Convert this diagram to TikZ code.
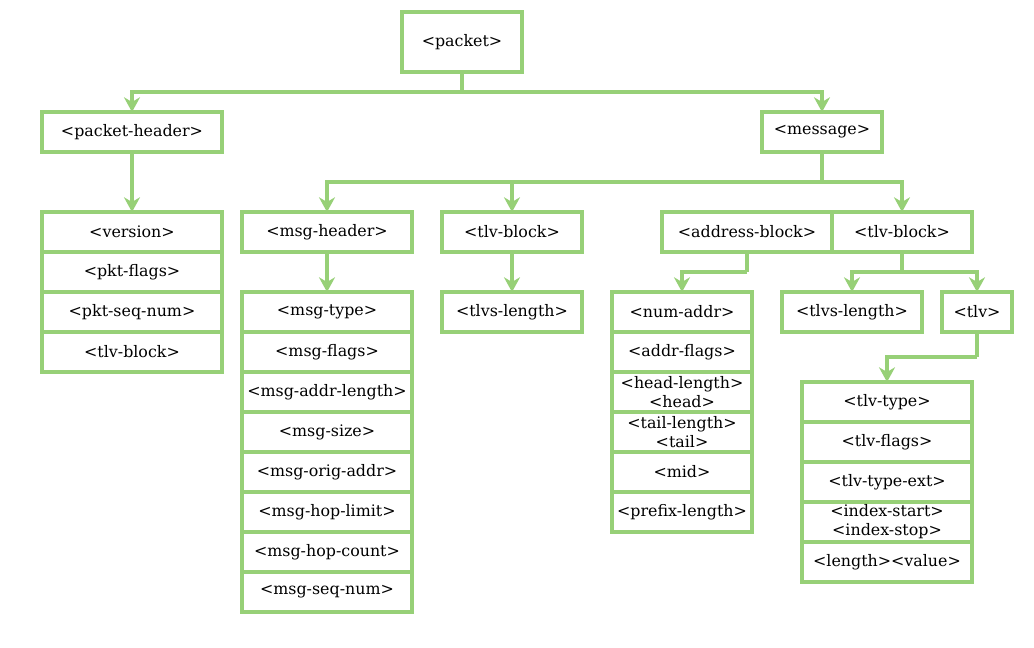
\documentclass[tikz,border=0pt]{standalone}
\usepackage{fontspec}
\setmainfont{DejaVu Serif}
\usetikzlibrary{arrows.meta}
\definecolor{grn}{HTML}{97D077}
\begin{document}
\begin{tikzpicture}[x=0.75pt,y=-0.75pt,
  box/.style={draw=grn,line width=2.4pt,fill=white,minimum height=30pt,inner sep=0pt,outer sep=0pt,
    font=\fontsize{11.9}{14.2}\selectfont,align=center},
  conn/.style={draw=grn,line width=2.4pt,-{Stealth[length=11pt,width=12pt,inset=3.5pt]}},
  plain/.style={draw=grn,line width=2.4pt}
]
\useasboundingbox (0,0) rectangle (1034,648);

% top
\node[box,minimum width=90pt,minimum height=45pt] (packet) at (462,42) {<packet>};
\node[box,minimum width=135pt] (pkh) at (132,132) {<packet-header>};
\node[box,minimum width=90pt] (msg) at (822,132) {<message>};

% packet-header stack
\foreach \t [count=\i] in {<version>,<pkt-flags>,<pkt-seq-num>,<tlv-block>}
  \node[box,minimum width=135pt] (ph\i) at (132,192+40*\i) {\t};

% msg-header
\node[box,minimum width=127.5pt] (mh) at (327,232) {<msg-header>};
\foreach \t [count=\i] in {<msg-type>,<msg-flags>,<msg-addr-length>,<msg-size>,<msg-orig-addr>,<msg-hop-limit>,<msg-hop-count>,<msg-seq-num>}
  \node[box,minimum width=127.5pt] (mt\i) at (327,272+40*\i) {\t};

% tlv-block 1
\node[box,minimum width=105pt] (tb1) at (512,232) {<tlv-block>};
\node[box,minimum width=105pt] (tl1) at (512,312) {<tlvs-length>};

% address-block
\node[box,minimum width=127.5pt] (ab) at (747,232) {<address-block>};
\node[box,minimum width=105pt] (tb2) at (902,232) {<tlv-block>};

\node[box,minimum width=105pt] (na1) at (682,312) {<num-addr>};
\node[box,minimum width=105pt] (na2) at (682,352) {<addr-flags>};
\node[box,minimum width=105pt] (na3) at (682,392) {<head-length>\\<head>};
\node[box,minimum width=105pt] (na4) at (682,432) {<tail-length>\\<tail>};
\node[box,minimum width=105pt] (na5) at (682,472) {<mid>};
\node[box,minimum width=105pt] (na6) at (682,512) {<prefix-length>};

% tlv-block 2 children
\node[box,minimum width=105pt] (tl2) at (852,312) {<tlvs-length>};
\node[box,minimum width=52.5pt] (tlv) at (977,312) {<tlv>};

\node[box,minimum width=127.5pt] (tt1) at (887,402) {<tlv-type>};
\node[box,minimum width=127.5pt] (tt2) at (887,442) {<tlv-flags>};
\node[box,minimum width=127.5pt] (tt3) at (887,482) {<tlv-type-ext>};
\node[box,minimum width=127.5pt] (tt4) at (887,522) {<index-start>\\<index-stop>};
\node[box,minimum width=127.5pt] (tt5) at (887,562) {<length><value>};

% connectors
\coordinate (j1) at (462,92);
\draw[plain] (packet.south) -- (j1);
\draw[conn] (j1) -| (pkh.north);
\draw[conn] (j1) -| (msg.north);

\draw[conn] (pkh.south) -- (ph1.north);

\coordinate (j2) at (822,182);
\draw[plain] (msg.south) -- (j2);
\draw[conn] (j2) -| (mh.north);
\draw[conn] (j2) -| (tb1.north);
\draw[conn] (j2) -| (tb2.north);

\draw[conn] (mh.south) -- (mt1.north);
\draw[conn] (tb1.south) -- (tl1.north);

\coordinate (j3) at (747,272);
\draw[plain] (ab.south) -- (j3);
\draw[conn] (j3) -| (na1.north);

\coordinate (j4) at (902,272);
\draw[plain] (tb2.south) -- (j4);
\draw[conn] (j4) -| (tl2.north);
\draw[conn] (j4) -| (tlv.north);

\coordinate (j5) at (977,357);
\draw[plain] (tlv.south) -- (j5);
\draw[conn] (j5) -| (tt1.north);
\end{tikzpicture}
\end{document}
